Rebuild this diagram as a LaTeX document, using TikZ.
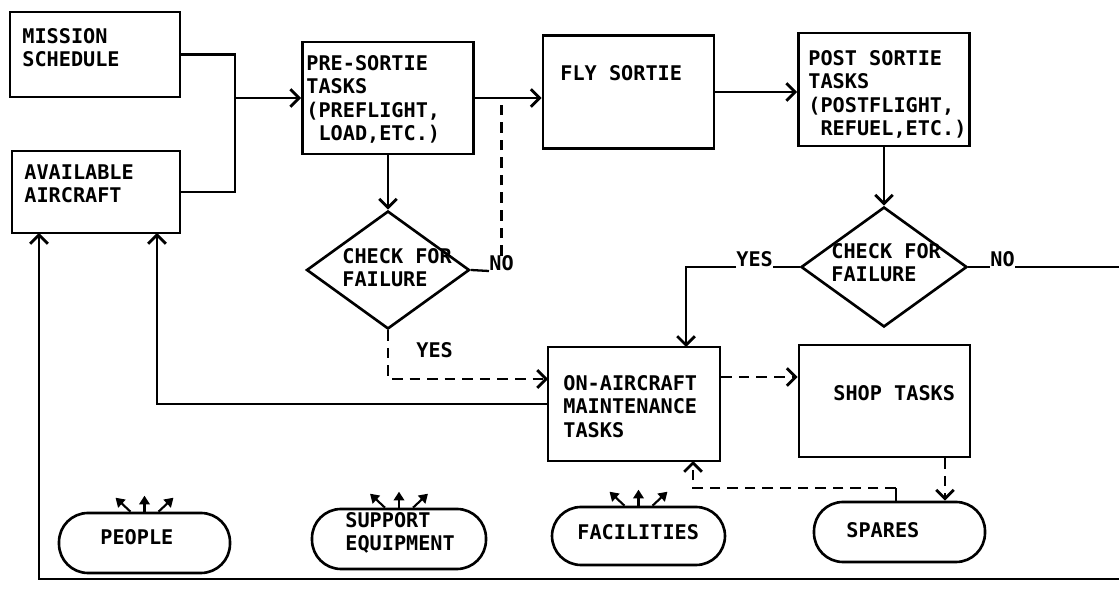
\documentclass[tikz,border=0pt]{standalone}
\usepackage{fontspec}
\setmonofont{DejaVu Sans Mono}
\usetikzlibrary{arrows.meta,shapes.geometric}
\tikzset{
 box/.style={draw, line width=1.5pt, inner sep=0pt},
 dia/.style={draw, diamond, line width=1.5pt, inner sep=0pt},
 pill/.style={draw, rounded corners=0.58cm, line width=1.5pt, inner sep=0pt, minimum height=1.2cm},
 txt/.style={anchor=north west, inner sep=0pt, align=left, font=\ttfamily\bfseries\fontsize{11.5}{13.4}\selectfont},
 lbl/.style={anchor=base west, inner sep=0pt, font=\ttfamily\bfseries\fontsize{11.5}{13.4}\selectfont},
 conn/.style={line width=1.3pt},
 arr/.style={conn, -{Straight Barb[length=5pt,width=10pt,line width=1.6pt]}},
 dsh/.style={conn, dash pattern=on 6pt off 4pt},
 darr/.style={dsh, -{Straight Barb[length=5pt,width=10pt,line width=1.6pt]}},
 fan/.style={line width=1.2pt, -{Triangle[length=5pt,width=6pt]}}
}
\begin{document}
\begin{tikzpicture}[x=0.02cm,y=-0.02cm]
\useasboundingbox (0,0) rectangle (1119,590);
% boxes
\node[box, minimum width=3.4cm, minimum height=1.7cm] (mission) at (95,54.5) {};
\node[box, minimum width=3.36cm, minimum height=1.64cm] (avail) at (96,192) {};
\node[box, minimum width=3.42cm, minimum height=2.24cm] (pre) at (388,98) {};
\node[box, minimum width=3.42cm, minimum height=2.26cm] (fly) at (628.5,92) {};
\node[box, minimum width=3.42cm, minimum height=2.26cm] (post) at (884,89.5) {};
\node[box, minimum width=3.44cm, minimum height=2.28cm] (onac) at (634,404) {};
\node[box, minimum width=3.42cm, minimum height=2.24cm] (shop) at (884.5,401) {};
\node[dia, minimum width=3.26cm, minimum height=2.36cm] (d1) at (388,270) {};
\node[dia, minimum width=3.32cm, minimum height=2.4cm] (d2) at (884,267) {};
\node[pill, minimum width=3.42cm] (people) at (144.5,543) {};
\node[pill, minimum width=3.48cm] (support) at (399,539) {};
\node[pill, minimum width=3.46cm, minimum height=1.16cm] (facil) at (638.5,536) {};
\node[pill, minimum width=3.42cm] (spares) at (899.5,532) {};
% texts
\node[txt] (tmission) at (22,28) {MISSION\\SCHEDULE};
\node[txt] (tavail) at (24,164) {AVAILABLE\\AIRCRAFT};
\node[txt] (tpre) at (306,55) {PRE-SORTIE\\TASKS\\(PREFLIGHT,\\~LOAD,ETC.)};
\node[txt] (tfly) at (560,65) {FLY SORTIE};
\node[txt] (tpost) at (808,50) {POST SORTIE\\TASKS\\(POSTFLIGHT,\\~REFUEL,ETC.)};
\node[txt] (td1) at (342,248) {CHECK FOR\\FAILURE};
\node[txt] (td2) at (831,243) {CHECK FOR\\FAILURE};
\node[txt] (tonac) at (563,375) {ON-AIRCRAFT\\MAINTENANCE\\TASKS};
\node[txt] (tshop) at (833,385) {SHOP TASKS};
\node[txt] (tpeople) at (100,529) {PEOPLE};
\node[txt] (tsupport) at (345,512) {SUPPORT\\EQUIPMENT};
\node[txt] (tfacil) at (577,524) {FACILITIES};
\node[txt] (tspares) at (846,522) {SPARES};
% labels
\node[txt] (yes1) at (416,342) {YES};
\node[lbl] (no1) at (489,271) {NO};
\node[lbl] (yes2) at (736,267) {YES};
\node[lbl] (no2) at (990,267) {NO};
% coordinates
\coordinate (jn) at (235,98);
\coordinate (yesin) at (548,379);
\coordinate (av1) at (39,233);
\coordinate (av2) at (157,233);
\coordinate (rtop) at (1119,267);
\coordinate (rbot) at (1119,579);
\coordinate (oatop) at (686,347);
\coordinate (sp1) at (896,502);
\coordinate (sp2) at (896,488);
\coordinate (oabot) at (693,461);
% connectors
\draw[conn] (mission.east) -| (jn);
\draw[conn] (avail.east) -| (jn);
\draw[arr] (jn) -- (pre.west);
\draw[arr] (pre.east) -- (pre.east -| fly.west);
\draw[arr] (fly.east) -- (fly.east -| post.west);
\draw[arr] (pre.south) -- (d1.north);
\draw[arr] (post.south) -- (d2.north);
\draw[conn] (d1.east) -- (no1.base west);
\draw[dsh] ([xshift=0.25cm]no1.north west) -- ([xshift=0.25cm]no1.north west |- pre.east);
\draw[darr] (d1.south) |- (yesin);
\draw[conn] (d2.west) -- (yes2.base east);
\draw[arr] (yes2.base west) -| (oatop);
\draw[conn] (d2.east) -- (no2.base west);
\draw[conn] (no2.base east) -- (rtop);
\draw[arr] (onac.west) -| (av2);
\draw[arr] (rbot) -| (av1);
\draw[darr] ([yshift=0.54cm]onac.east) -- ([yshift=0.54cm]onac.east -| shop.west);
\draw[darr] ([xshift=1.21cm]shop.south) -- ([xshift=1.21cm]shop.south |- spares.north);
\draw[conn] (sp1) -- (sp2);
\draw[darr] (sp2) -| (oabot);
% fan arrows
\foreach \n in {people,support,facil}{
  \draw[fan] ([xshift=-0.28cm]\n.north) -- ++(-0.3cm,0.28cm);
  \draw[fan] (\n.north) -- ++(0,0.32cm);
  \draw[fan] ([xshift=0.28cm]\n.north) -- ++(0.3cm,0.28cm);
}
\end{tikzpicture}
\end{document}
